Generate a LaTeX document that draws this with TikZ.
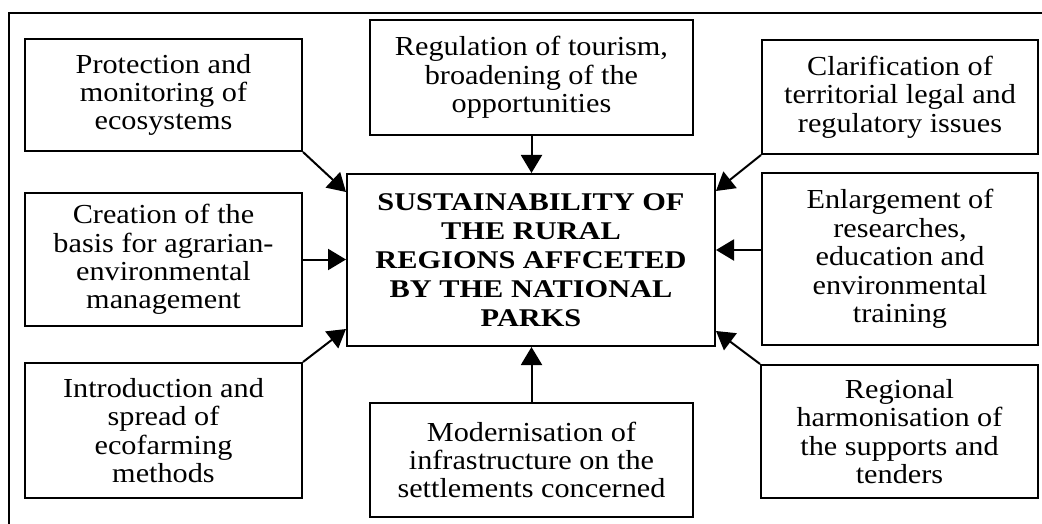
\documentclass[tikz,border=0pt]{standalone}
\usepackage{fontspec}
\setmainfont{Liberation Serif}[FakeStretch=1.1]
\newfontfamily\hubfont{Liberation Serif}[FakeStretch=1.19]
\usetikzlibrary{arrows.meta,calc}
\tikzset{
  box/.style={draw,line width=2pt,inner sep=0pt,align=center,
    font=\fontsize{27.5}{28.4}\selectfont},
  hub/.style={box,font=\hubfont\fontsize{25.5}{29}\selectfont\bfseries},
  link/.style={line width=2pt,-{Triangle[length=18pt,width=21pt]}},
  frame/.style={line width=2pt}
}
\begin{document}
\begin{tikzpicture}[x=1pt,y=-1pt]
\useasboundingbox (0,0) rectangle (1042,524);
\draw[frame] (9,530) -- (9,13) -- (1050,13);
\node[hub,minimum width=368pt,minimum height=172pt] (c) at (531,260)
  {SUSTAINABILITY OF\\THE RURAL\\REGIONS AFFCETED\\BY THE NATIONAL\\PARKS};
\node[box,minimum width=277pt,minimum height=112pt] (tl) at (163.5,95)
  {Protection and\\monitoring of\\ecosystems};
\node[box,minimum width=323pt,minimum height=115pt] (tc) at (531.5,77.5)
  {Regulation of tourism,\\broadening of the\\opportunities};
\node[box,minimum width=276pt,minimum height=114pt] (tr) at (900,97)
  {Clarification of\\territorial legal and\\regulatory issues};
\node[box,minimum width=277pt,minimum height=133pt] (ml) at (163.5,259.5)
  {Creation of the\\basis for agrarian-\\environmental\\management};
\node[box,minimum width=276pt,minimum height=172pt] (mr) at (900,259)
  {Enlargement of\\researches,\\education and\\environmental\\training};
\node[box,minimum width=277pt,minimum height=135pt] (bl) at (163.5,430.5)
  {Introduction and\\spread of\\ecofarming\\methods};
\node[box,minimum width=323pt,minimum height=114pt] (bc) at (531.5,460)
  {Modernisation of\\infrastructure on the\\settlements concerned};
\node[box,minimum width=277pt,minimum height=133pt] (br) at (899.5,431.5)
  {Regional\\harmonisation of\\the supports and\\tenders};
\coordinate (mrs) at ($(mr.west)+(0,-9)$);
\draw[link] (tl.south east) -- ($(c.north west)+(0,19)$);
\draw[link] (tc.south) -- (tc.south |- c.north);
\draw[link] (tr.south west) -- ($(c.north east)+(0,18)$);
\draw[link] (ml.east) -- (c.west |- ml.east);
\draw[link] (mrs) -- (c.east |- mrs);
\draw[link] (bl.north east) -- ($(c.south west)+(0,-18)$);
\draw[link] (bc.north) -- (bc.north |- c.south);
\draw[link] (br.north west) -- ($(c.south east)+(0,-16)$);
\end{tikzpicture}
\end{document}
